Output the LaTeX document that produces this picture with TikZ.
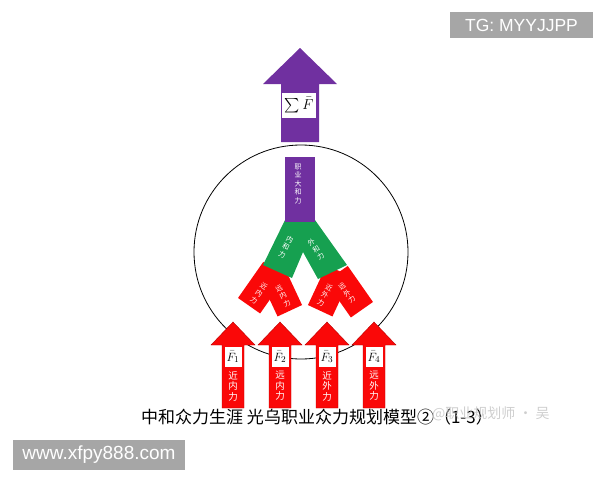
\documentclass[tikz,border=0pt]{standalone}
\usepackage{amsmath}
\usepackage{fontspec}
\setmainfont{Liberation Sans}
\newfontfamily\cjk{Noto Sans CJK SC}
\usetikzlibrary{positioning}
\definecolor{hepurple}{RGB}{112,48,160}
\definecolor{hegreen}{RGB}{22,160,80}
\definecolor{hered}{RGB}{250,8,8}
\definecolor{hedark}{RGB}{185,0,0}
\definecolor{wmgray}{RGB}{166,166,166}
\tikzstyle{bigarrow} = [fill=hepurple, draw=none]
\tikzstyle{forcearrow} = [fill=hered, draw=hedark, line width=0.4pt]
\tikzstyle{redblk} = [fill=hered, draw=none, inner sep=0pt,
    minimum width=27pt, minimum height=44pt]
\tikzstyle{fbox} = [fill=white, inner sep=0pt, minimum width=17pt,
    minimum height=20pt, font=\fontsize{12.5}{14}\selectfont]
\tikzstyle{smalltxt} = [text=white, inner sep=0pt, align=center,
    font=\cjk\fontsize{7}{8.5}\selectfont]
\tikzstyle{armtxt} = [text=white, inner sep=0pt, align=center,
    font=\cjk\fontsize{9.5}{10.5}\selectfont]
\tikzstyle{wmbox} = [fill=wmgray, text=white, inner sep=0pt]

\begin{document}
\begin{tikzpicture}[x=1pt,y=-1pt]
\useasboundingbox (0,0) rectangle (600,480);
% grey stamps
\node[wmbox, minimum width=143pt, minimum height=26pt,
    font=\fontsize{17.5}{19}\selectfont] (tg) at (521.5,25) {TG: MYYJJPP};
\node[wmbox, minimum width=172pt, minimum height=30pt,
    font=\fontsize{19}{21}\selectfont] (web) at (99,455) {www.xfpy888.com};

% the ring
\node[draw, circle, line width=0.8pt, minimum size=214pt, inner sep=0pt] (ring) at (301,252) {};

% resultant
\draw[bigarrow] (281,142) -- (281,84) -- (263,84) -- (300,48) -- (337,84)
    -- (319,84) -- (319,142) -- cycle;
\node[fill=white, minimum width=34pt, minimum height=25pt, inner sep=0pt,
    font=\fontsize{13.5}{15}\selectfont] (sumf) at (299,105.5) {$\sum\bar{F}$};

% red blocks
\node[redblk, rotate=-35] (nearin) at (261.7,287.7) {};
\node[redblk, rotate=25] (farin) at (280.5,290.8) {};
\node[redblk, rotate=-25] (nearout) at (329.5,290.8) {};
\node[redblk, rotate=35] (farout) at (349.3,291.7) {};

% green fork
\fill[hegreen] (285,220) -- (263,265) -- (292,278) -- (303,252) -- (318,279)
    -- (347,265) -- (315,220) -- cycle;

% purple bar
\node[fill=hepurple, minimum width=30pt, minimum height=65pt, inner sep=0pt] (career) at (300,189.5) {};

% labels
\node[smalltxt] (careertxt) at (298,184) {职\\业\\大\\和\\力};
\node[smalltxt, rotate=-26] (intxt) at (286,247) {内\\和\\力};
\node[smalltxt, rotate=33] (outtxt) at (316,249) {外\\和\\力};
\node[smalltxt, rotate=-35] (nearintxt) at (259,293) {近\\内\\力};
\node[smalltxt, rotate=28] (farintxt) at (283,296) {远\\内\\力};
\node[smalltxt, rotate=-28] (nearouttxt) at (325,295) {近\\外\\力};
\node[smalltxt, rotate=35] (farouttxt) at (347,293) {远\\外\\力};

% the four forces
\foreach \x/\i/\a/\b in {233/1/近/内, 280/2/远/内, 327/3/近/外, 374/4/远/外}{
    \draw[forcearrow] (\x-11,408) -- (\x-11,345) -- (\x-22,345) -- (\x,322)
        -- (\x+22,345) -- (\x+11,345) -- (\x+11,408) -- cycle;
    \node[fbox] (f\i) at (\x,357) {$\bar{F}_{\i}$};
    \node[armtxt, below=4pt of f\i] (t\i) {\a\\\b\\力};
}

% caption
\node[anchor=west, inner sep=0pt, font=\cjk\fontsize{17}{19}\selectfont] (caption) at (141,417)
    {中和众力生涯 光乌职业众力规划模型②（1-3）};
\node[anchor=west, inner sep=0pt, text=gray!45, opacity=0.85,
    font=\cjk\fontsize{14}{16}\selectfont] (mark) at (432,414) {@职业规划师 · 吴};
\end{tikzpicture}
\end{document}
